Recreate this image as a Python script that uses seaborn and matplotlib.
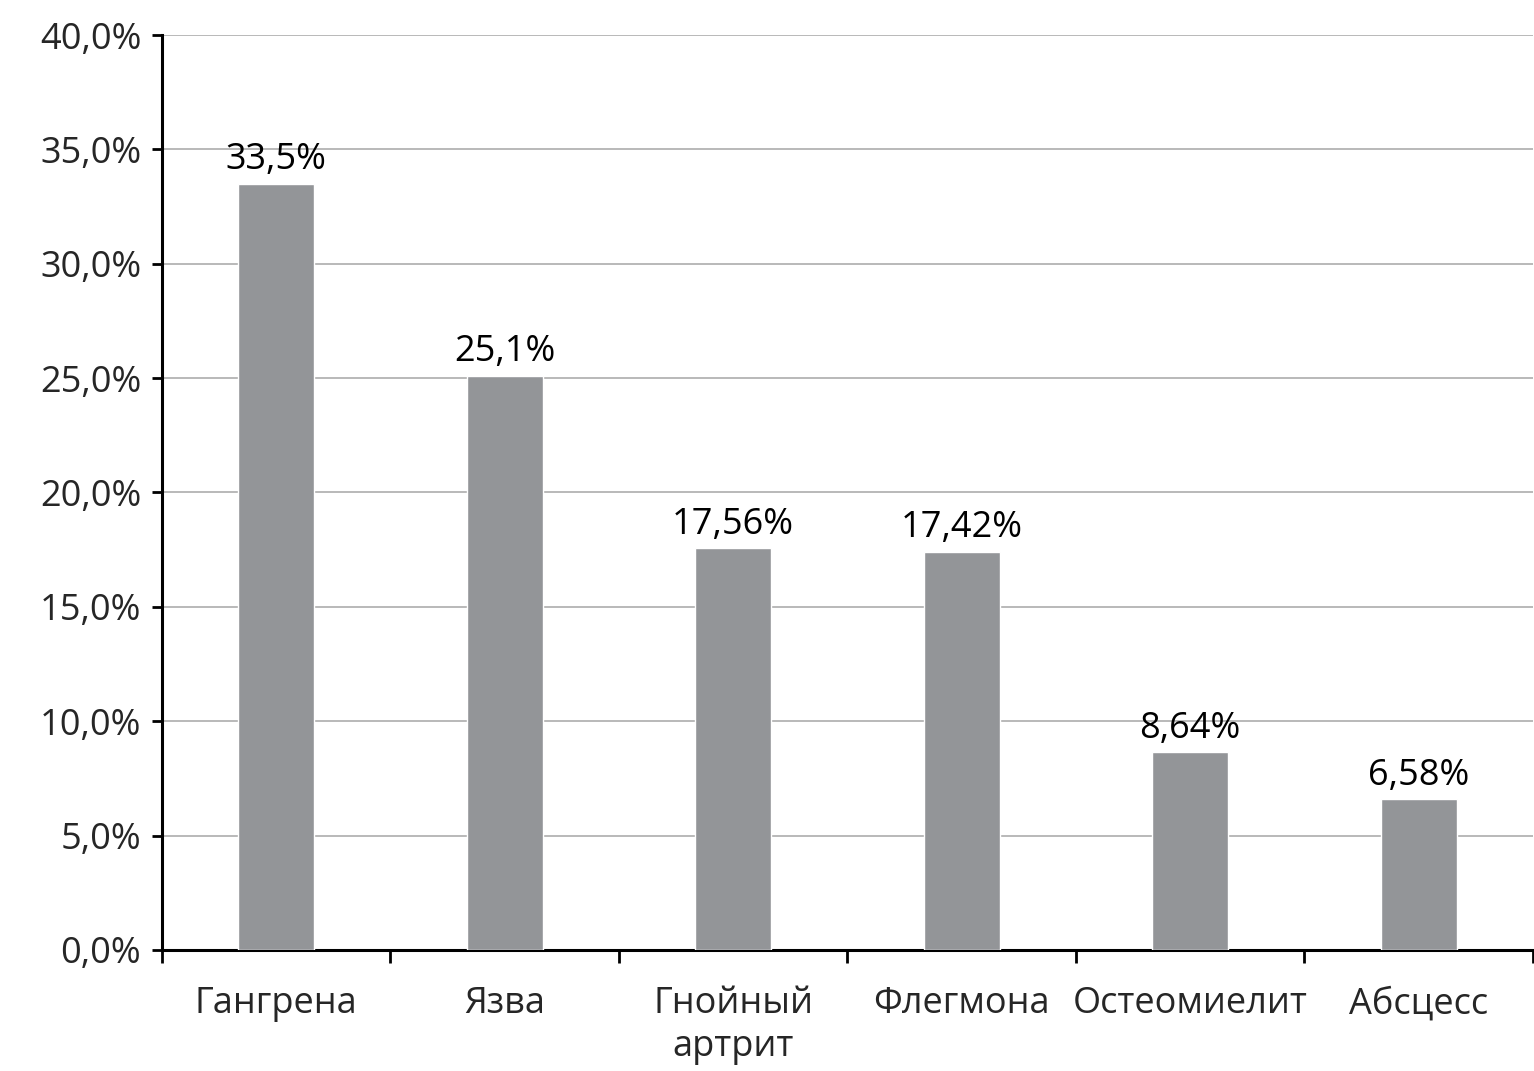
import pandas as pd
import matplotlib.pyplot as plt
import seaborn as sns
from matplotlib.ticker import FixedLocator

# Data
categories = ['Гангрена', 'Язва', 'Гнойный\nартрит', 'Флегмона', 'Остеомиелит', 'Абсцесс']
values = [33.5, 25.1, 17.56, 17.42, 8.64, 6.58]
value_labels = ['33,5%', '25,1%', '17,56%', '17,42%', '8,64%', '6,58%']
y_ticks = [0, 5, 10, 15, 20, 25, 30, 35, 40]
y_tick_labels = ['0,0%', '5,0%', '10,0%', '15,0%', '20,0%', '25,0%', '30,0%', '35,0%', '40,0%']

df = pd.DataFrame({'category': categories, 'value': values})

sns.set_style('white')
plt.rcParams['font.family'] = ['Open Sans', 'DejaVu Sans']

fig = plt.figure(figsize=(15.34, 10.71), dpi=100)
ax = fig.add_axes([0.1056, 0.113, 0.8937, 0.8543])

sns.barplot(data=df, x='category', y='value', color='#939598', saturation=1,
            width=0.333, ax=ax, zorder=3)

# labels above bars
ax.bar_label(ax.containers[0], labels=value_labels, padding=4, fontsize=26, color='black')

ax.set_ylim(0, 40)
ax.set_xlim(-0.5, len(categories) - 0.5)
ax.set_yticks(y_ticks)
ax.set_yticklabels(y_tick_labels, fontsize=26)
ax.yaxis.grid(True, color='#b3b3b3', linewidth=1.3, zorder=0)
ax.set_axisbelow(True)

# category ticks at the boundaries, labels in the middle
ax.tick_params(axis='x', which='major', length=0, labelsize=26, pad=26)
ax.xaxis.set_minor_locator(FixedLocator([i - 0.5 for i in range(len(categories) + 1)]))
ax.tick_params(axis='x', which='minor', bottom=True, length=9, width=2,
               color='black', direction='out')
ax.tick_params(axis='y', left=True, length=7, width=2, color='black',
               direction='out', pad=8)
for lab in ax.get_xticklabels():
    lab.set_linespacing(1.25)

ax.set_xlabel('')
ax.set_ylabel('')
sns.despine(ax=ax, top=True, right=True)
ax.spines['left'].set_linewidth(2.2)
ax.spines['bottom'].set_linewidth(2.2)
ax.spines['left'].set_color('black')
ax.spines['bottom'].set_color('black')

plt.savefig('out.png', dpi=100)
